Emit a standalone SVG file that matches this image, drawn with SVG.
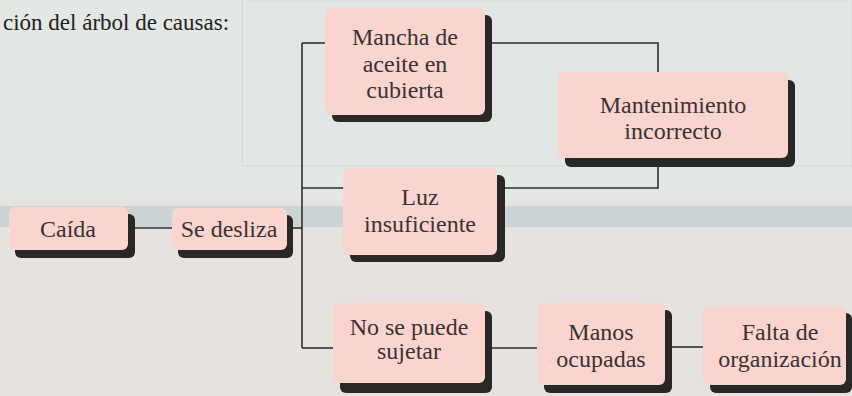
<svg xmlns="http://www.w3.org/2000/svg" width="852" height="396" viewBox="0 0 852 396">
<style>
.shadow{fill:#2a2727}
.box{fill:#fad5d0}
.lbl{font-family:"Liberation Serif","Times New Roman",serif;font-size:24px;fill:#3a3232;text-anchor:middle}
.conn{stroke:#2f2f2f;stroke-width:1.6;fill:none}
</style>
<defs>
<linearGradient id="pk" x1="0" y1="0" x2="0" y2="1">
<stop offset="0" stop-color="#fad3cf"/>
<stop offset="0.5" stop-color="#fcdcd8"/>
<stop offset="1" stop-color="#f9d2cd"/>
</linearGradient>
</defs>
<rect x="0" y="0" width="852" height="396" fill="#e5e2df"/>
<rect x="0" y="0" width="852" height="200" fill="#e4e8e4"/>
<rect x="242" y="0" width="610" height="166" fill="#e2e6e4" stroke="#d6dad8" stroke-width="1"/>
<rect x="0" y="206" width="852" height="21" fill="#cbd4d5"/>
<text x="3" y="30" font-family="Liberation Serif, Times New Roman, serif" font-size="23" fill="#222">ción del árbol de causas:</text>
<g id="connectors" class="conn">
<path d="M135 228 H172"/>
<path d="M293 228 H302"/>
<path d="M302 43 V348"/>
<path d="M302 43 H325"/>
<path d="M492 43 H658 V72"/>
<path d="M658 167 V188 H505"/>
<path d="M302 188 H343"/>
<path d="M302 348 H333"/>
<path d="M492 348 H537"/>
<path d="M672 347 H703"/>
</g>
<g id="caida">
<rect class="shadow" x="15" y="214" width="120" height="44" rx="6"/>
<rect class="box" fill="url(#pk)" x="9" y="207" width="119" height="43" rx="6"/>
<text class="lbl" x="68" y="237">Caída</text>
</g>
<g id="se-desliza">
<rect class="shadow" x="178" y="215" width="115" height="43" rx="6"/>
<rect class="box" fill="url(#pk)" x="172" y="208" width="115" height="42" rx="6"/>
<text class="lbl" x="229" y="237">Se desliza</text>
</g>
<g id="mancha">
<rect class="shadow" x="332" y="15" width="160" height="107" rx="6"/>
<rect class="box" fill="url(#pk)" x="325" y="8" width="160" height="107" rx="6"/>
<text class="lbl" x="405" y="45">Mancha de</text>
<text class="lbl" x="405" y="72">aceite en</text>
<text class="lbl" x="405" y="98">cubierta</text>
</g>
<g id="mantenimiento">
<rect class="shadow" x="565" y="80" width="230" height="87" rx="6"/>
<rect class="box" fill="url(#pk)" x="558" y="72" width="230" height="86" rx="6"/>
<text class="lbl" x="673" y="113">Mantenimiento</text>
<text class="lbl" x="673" y="139">incorrecto</text>
</g>
<g id="luz">
<rect class="shadow" x="350" y="175" width="155" height="87" rx="6"/>
<rect class="box" fill="url(#pk)" x="343" y="168" width="154" height="87" rx="6"/>
<text class="lbl" x="420" y="205">Luz</text>
<text class="lbl" x="420" y="232">insuficiente</text>
</g>
<g id="no-se-puede">
<rect class="shadow" x="340" y="311" width="152" height="82" rx="6"/>
<rect class="box" fill="url(#pk)" x="333" y="303" width="152" height="80" rx="6"/>
<text class="lbl" x="409" y="335">No se puede</text>
<text class="lbl" x="409" y="359">sujetar</text>
</g>
<g id="manos">
<rect class="shadow" x="544" y="310" width="128" height="83" rx="6"/>
<rect class="box" fill="url(#pk)" x="537" y="303" width="128" height="82" rx="6"/>
<text class="lbl" x="601" y="340">Manos</text>
<text class="lbl" x="601" y="367">ocupadas</text>
</g>
<g id="falta">
<rect class="shadow" x="710" y="313" width="142" height="80" rx="6"/>
<rect class="box" fill="url(#pk)" x="703" y="306" width="143" height="79" rx="6"/>
<text class="lbl" x="780" y="340">Falta de</text>
<text class="lbl" x="780" y="367">organización</text>
</g>
</svg>
